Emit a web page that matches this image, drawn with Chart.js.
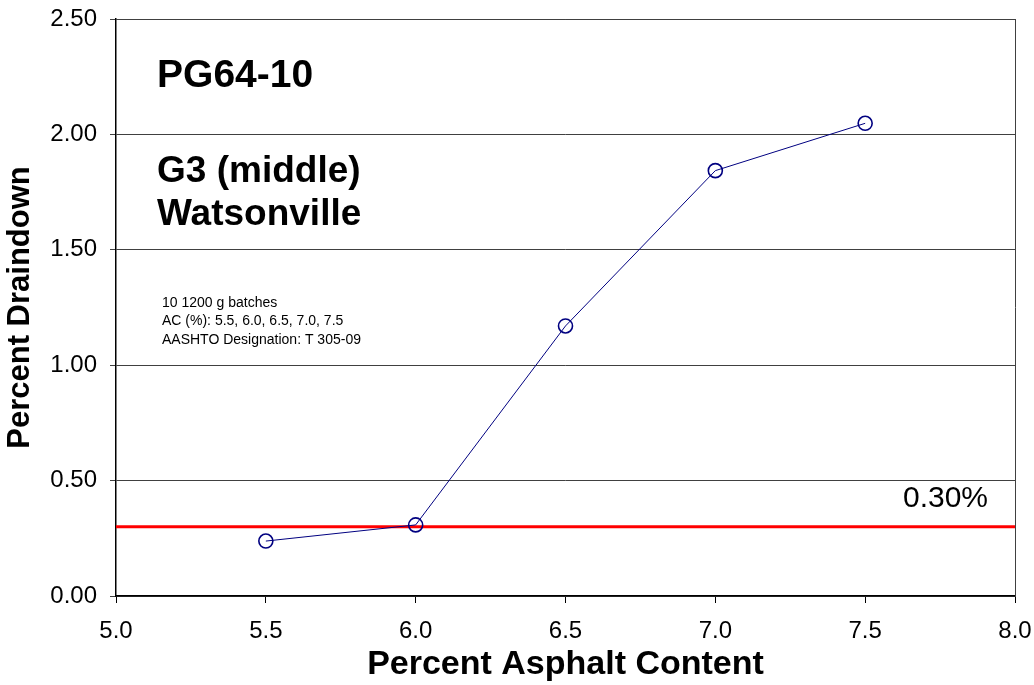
<!DOCTYPE html>
<html><head><meta charset="utf-8">
<script src="https://cdn.jsdelivr.net/npm/chart.js@4.4.0/dist/chart.umd.min.js"></script>
<style>html,body{margin:0;padding:0;background:#fff;}canvas{display:block;}</style>
</head><body>
<canvas id="c" width="1034" height="685"></canvas>
<script>
const asphaltContent = [5.5, 6.0, 6.5, 7.0, 7.5];
const draindown = [0.238, 0.308, 1.17, 1.843, 2.048];
const limitValue = 0.30;
const xRange = [5.0, 8.0];
const yRange = [0.0, 2.5];
const titleText = "PG64-10";
const subtitleLines = ["G3 (middle)", "Watsonville"];
const noteLines = ["10 1200 g batches", "AC (%): 5.5, 6.0, 6.5, 7.0, 7.5", "AASHTO Designation: T 305-09"];
const limitLabel = "0.30%";

const FONT = "'Liberation Sans', Arial, sans-serif";

const annot = {
  id: 'annot',
  afterDraw(chart) {
    const {ctx, chartArea: a, scales} = chart;
    const xs = scales.x, ys = scales.y;
    ctx.save();
    ctx.strokeStyle = '#404040';
    ctx.lineWidth = 1;
    ctx.beginPath();
    ctx.moveTo(a.left, a.top + 0.5); ctx.lineTo(a.right + 0.5, a.top + 0.5);
    ctx.moveTo(a.right + 0.5, a.top); ctx.lineTo(a.right + 0.5, a.bottom);
    ctx.stroke();
    ctx.fillStyle = '#000';
    ctx.textBaseline = 'middle';
    ctx.textAlign = 'left';
    ctx.font = 'bold 39px ' + FONT;
    ctx.fillText(titleText, xs.getPixelForValue(5.137), ys.getPixelForValue(2.253));
    ctx.font = 'bold 37px ' + FONT;
    subtitleLines.forEach((t, i) => ctx.fillText(t, xs.getPixelForValue(5.137), ys.getPixelForValue(1.837 - i * 0.186)));
    ctx.font = '14px ' + FONT;
    noteLines.forEach((t, i) => ctx.fillText(t, xs.getPixelForValue(5.1535), ys.getPixelForValue(1.270 - i * 0.080)));
    ctx.textAlign = 'right';
    ctx.font = '30px ' + FONT;
    ctx.fillText(limitLabel, xs.getPixelForValue(7.910), ys.getPixelForValue(0.420));
    ctx.restore();
  }
};

const chart = new Chart(document.getElementById('c'), {
  type: 'scatter',
  data: {
    datasets: [
      {
        data: [{x: xRange[0], y: limitValue}, {x: xRange[1], y: limitValue}],
        showLine: true, borderColor: '#ff0000', borderWidth: 3, pointRadius: 0, order: 2
      },
      {
        data: asphaltContent.map((x, i) => ({x, y: draindown[i]})),
        showLine: true, borderColor: '#000080', borderWidth: 1,
        pointRadius: 7, pointBorderWidth: 1.6, pointBorderColor: '#000080',
        pointBackgroundColor: 'rgba(0,0,0,0)', order: 1
      }
    ]
  },
  options: {
    responsive: false, animation: false,
    layout: {padding: {top: 19, right: 19, left: 0, bottom: 0}},
    plugins: {legend: {display: false}, tooltip: {enabled: false}},
    scales: {
      x: {
        type: 'linear', min: xRange[0], max: xRange[1],
        afterFit(s) { s.height = 89; s.paddingLeft = 0; s.paddingRight = 0; },
        ticks: {stepSize: 0.5, color: '#000', font: {family: FONT, size: 24}, padding: 14,
          callback: v => v.toFixed(1)},
        grid: {drawOnChartArea: false, drawTicks: true, tickLength: 7, color: '#000'},
        border: {color: '#000', width: 1.5},
        title: {display: true, text: 'Percent Asphalt Content', color: '#000',
          font: {family: FONT, size: 34, weight: 'bold'}, padding: {top: 0, bottom: 0}}
      },
      y: {
        type: 'linear', min: yRange[0], max: yRange[1],
        afterFit(s) { s.width = 116; s.paddingTop = 0; s.paddingBottom = 0; },
        ticks: {stepSize: 0.5, color: '#000', font: {family: FONT, size: 24}, padding: 13,
          callback: v => v.toFixed(2)},
        grid: {color: '#404040', lineWidth: 1, tickLength: 6, drawTicks: true},
        border: {color: '#000', width: 1.5},
        title: {display: true, text: 'Percent Draindown', color: '#000',
          font: {family: FONT, size: 31, weight: 'bold'}, padding: {top: 2, bottom: 0}}
      }
    }
  },
  plugins: [annot]
});
</script>
</body></html>
